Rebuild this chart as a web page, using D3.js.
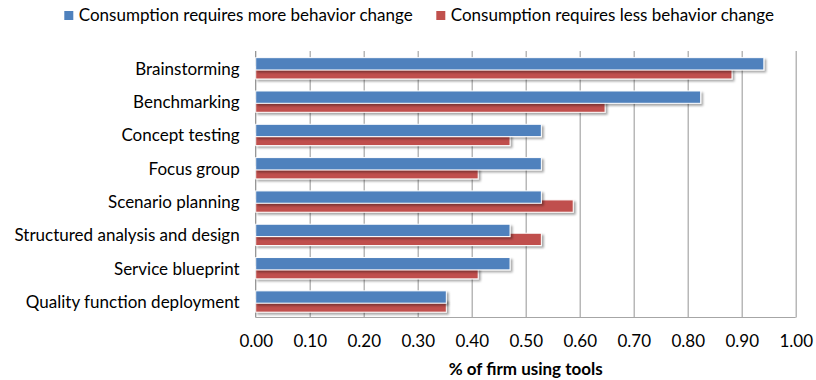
<!DOCTYPE html>
<html>
<head>
<meta charset="utf-8">
<script src="https://cdn.jsdelivr.net/npm/d3@7"></script>
<style>
  html, body { margin: 0; padding: 0; background: #fff; }
  svg { display: block; font-family: Lato, "Open Sans", sans-serif; }
</style>
</head>
<body>
<svg id="chart" width="816" height="380"></svg>
<script>
// Design tools used by firms, split by how much behaviour change consumption needs
const categories = [
  "Brainstorming",
  "Benchmarking",
  "Concept testing",
  "Focus group",
  "Scenario planning",
  "Structured analysis and design",
  "Service blueprint",
  "Quality function deployment"
];
const moreChange = [0.941, 0.824, 0.529, 0.529, 0.529, 0.471, 0.471, 0.353];
const lessChange = [0.882, 0.647, 0.471, 0.412, 0.588, 0.529, 0.412, 0.353];
const seriesNames = [
  "Consumption requires more behavior change",
  "Consumption requires less behavior change"
];
const xTicks = [0, 0.1, 0.2, 0.3, 0.4, 0.5, 0.6, 0.7, 0.8, 0.9, 1.0];
const xTitle = "% of firm using tools";

const colors = ["#4F81BD", "#C0504D"];
const plot = { left: 255.7, right: 795.7, top: 51, bottom: 317.5 };

const svg = d3.select("#chart");

const defs = svg.append("defs");
const shadow = defs.append("filter").attr("id", "barShadow")
  .attr("x", "-5%").attr("y", "-40%").attr("width", "115%").attr("height", "190%");
shadow.append("feDropShadow")
  .attr("dx", 2).attr("dy", 2).attr("stdDeviation", 1.3)
  .attr("flood-color", "#000").attr("flood-opacity", 0.35);

const x = d3.scaleLinear().domain([0, 1]).range([plot.left, plot.right]);
const y = d3.scaleBand().domain(categories).range([plot.top, plot.bottom]).padding(0);
const step = y.bandwidth();
const barH = step * 0.37;
// offsets of each series inside a category slot (second series overlaps the first)
const seriesOffset = [step * 0.2, step * 0.47];

// vertical gridlines
svg.append("g")
  .attr("transform", `translate(0,${plot.bottom})`)
  .call(d3.axisBottom(x).tickValues(xTicks.slice(1)).tickSize(-(plot.bottom - plot.top)).tickFormat(""))
  .call(g => g.select(".domain").remove())
  .call(g => g.selectAll(".tick line").attr("stroke", "#A6A6A6").attr("stroke-width", 1.2));

// axis lines
svg.append("line")
  .attr("x1", plot.left).attr("x2", plot.left)
  .attr("y1", plot.top).attr("y2", plot.bottom)
  .attr("stroke", "#8C8C8C").attr("stroke-width", 1.2);
svg.append("line")
  .attr("x1", plot.left).attr("x2", plot.right)
  .attr("y1", plot.bottom).attr("y2", plot.bottom)
  .attr("stroke", "#A6A6A6").attr("stroke-width", 1.2);

// bars: second series first so the first series sits on top where they overlap
const series = [moreChange, lessChange];
[1, 0].forEach(si => {
  svg.append("g")
    .attr("filter", "url(#barShadow)")
    .selectAll("rect")
    .data(categories.map((c, i) => ({ c, v: series[si][i] })))
    .join("rect")
    .attr("x", x(0))
    .attr("y", d => y(d.c) + seriesOffset[si])
    .attr("width", d => x(d.v) - x(0))
    .attr("height", barH)
    .attr("fill", colors[si])
    .attr("stroke", "#ffffff")
    .attr("stroke-width", 1);
});

// category labels
svg.append("g")
  .attr("transform", `translate(${plot.left - 16},0)`)
  .call(d3.axisLeft(y).tickSize(0).tickPadding(0))
  .call(g => g.select(".domain").remove())
  .call(g => g.selectAll(".tick text")
    .attr("font-family", "Lato, sans-serif")
    .attr("font-size", 17)
    .attr("fill", "#000")
    .attr("dy", "0.42em"));

// value labels under the plot
svg.append("g")
  .attr("transform", `translate(0,${plot.bottom})`)
  .call(d3.axisBottom(x).tickValues(xTicks).tickSize(0).tickPadding(0).tickFormat(d3.format(".2f")))
  .call(g => g.select(".domain").remove())
  .call(g => g.selectAll(".tick text")
    .attr("font-family", "Lato, sans-serif")
    .attr("font-size", 17)
    .attr("fill", "#000")
    .attr("dy", null)
    .attr("y", 29.5));

// axis title
svg.append("text")
  .attr("x", (plot.left + plot.right) / 2)
  .attr("y", 375)
  .attr("text-anchor", "middle")
  .attr("font-family", "Lato, sans-serif")
  .attr("font-weight", "bold")
  .attr("font-size", 17)
  .attr("fill", "#000")
  .text(xTitle);

// legend
const legendX = [64.3, 436.3];
const legend = svg.append("g");
seriesNames.forEach((name, i) => {
  legend.append("rect")
    .attr("x", legendX[i]).attr("y", 11)
    .attr("width", 9).attr("height", 9)
    .attr("fill", colors[i]);
  legend.append("text")
    .attr("x", legendX[i] + 14.5).attr("y", 21)
    .attr("font-family", "Lato, sans-serif")
    .attr("font-size", 17)
    .attr("fill", "#000")
    .text(name);
});
</script>
</body>
</html>
